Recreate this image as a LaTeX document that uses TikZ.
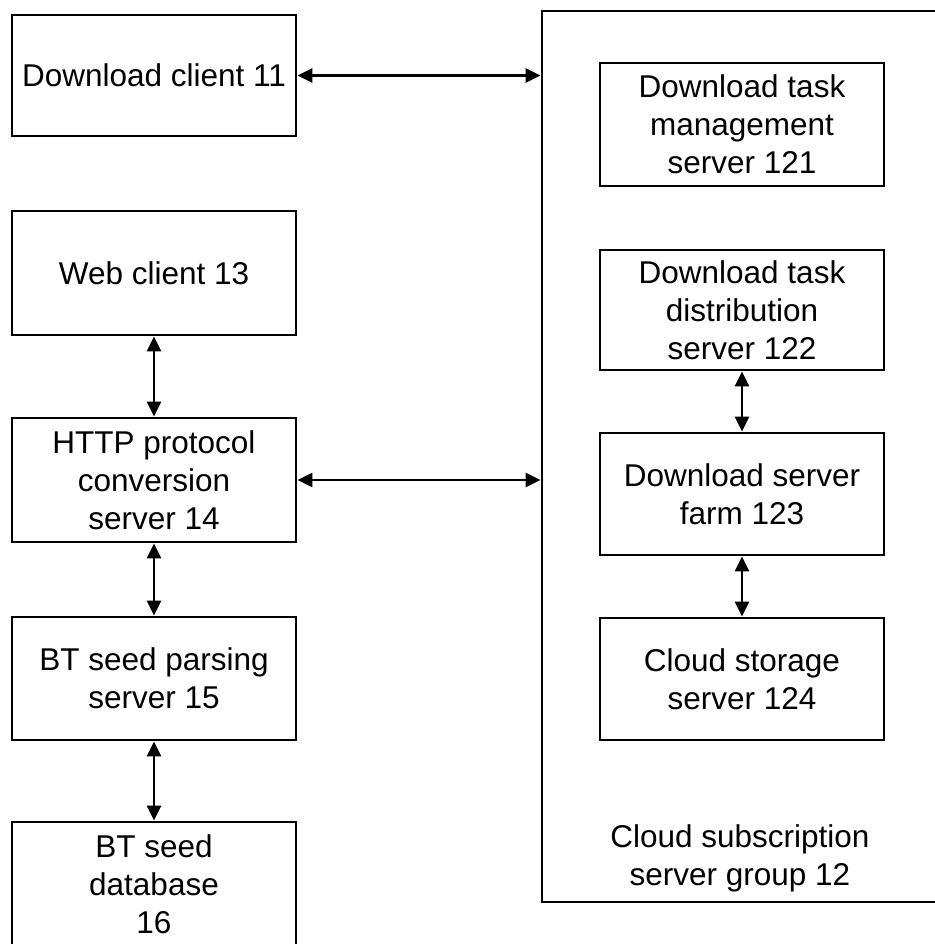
\documentclass[tikz,border=0pt]{standalone}
\usepackage{fontspec}
\setmainfont{Liberation Sans}
\usetikzlibrary{arrows.meta,positioning}

\begin{document}
\begin{tikzpicture}[x=1pt,y=-1pt,
    srvbox/.style={draw,line width=2.9pt,minimum width=284pt,minimum height=122pt,
      align=center,inner sep=0pt,font=\fontsize{31.5}{38}\selectfont},
    biarrow/.style={line width=2.9pt,{Triangle[length=15pt,width=14pt]}-{Triangle[length=15pt,width=14pt]}}]
  \useasboundingbox (0,0) rectangle (934,944);
  % cloud server group
  \node[draw,line width=2.9pt,minimum width=408pt,minimum height=891pt,inner sep=0pt] (grp) at (746,456.5) {};
  \node[align=center,font=\fontsize{31.5}{38}\selectfont] (grplbl) at (740,858) {Cloud subscription\\server group 12};
  % left column
  \node[srvbox,minimum height=121pt] (dc) at (154,75.5) {Download client 11};
  \node[srvbox,minimum height=124pt] (web) at (154,273) {Web client 13};
  \node[srvbox,minimum height=124pt] (http) at (154,480) {HTTP protocol\\conversion\\server 14};
  \node[srvbox,minimum height=123pt] (parse) at (154,678.5) {BT seed parsing\\server 15};
  \node[srvbox,minimum height=124pt] (db) at (154,884) {BT seed\\database\\16};
  % right column
  \node[srvbox,minimum height=123pt] (mgmt) at (742,124.5) {Download task\\management\\server 121};
  \node[srvbox,minimum height=120pt] (dist) at (742,310) {Download task\\distribution\\server 122};
  \node[srvbox,minimum height=122pt] (farm) at (742,494) {Download server\\farm 123};
  \node[srvbox,minimum height=122pt] (store) at (742,679) {Cloud storage\\server 124};
  % connectors
  \draw[biarrow] (dc.east) -- (dc.east -| grp.west);
  \draw[biarrow] (http.east) -- (http.east -| grp.west);
  \draw[biarrow] (web) -- (http);
  \draw[biarrow] (http) -- (parse);
  \draw[biarrow] (parse) -- (db);
  \draw[biarrow] (dist) -- (farm);
  \draw[biarrow] (farm) -- (store);
\end{tikzpicture}
\end{document}
